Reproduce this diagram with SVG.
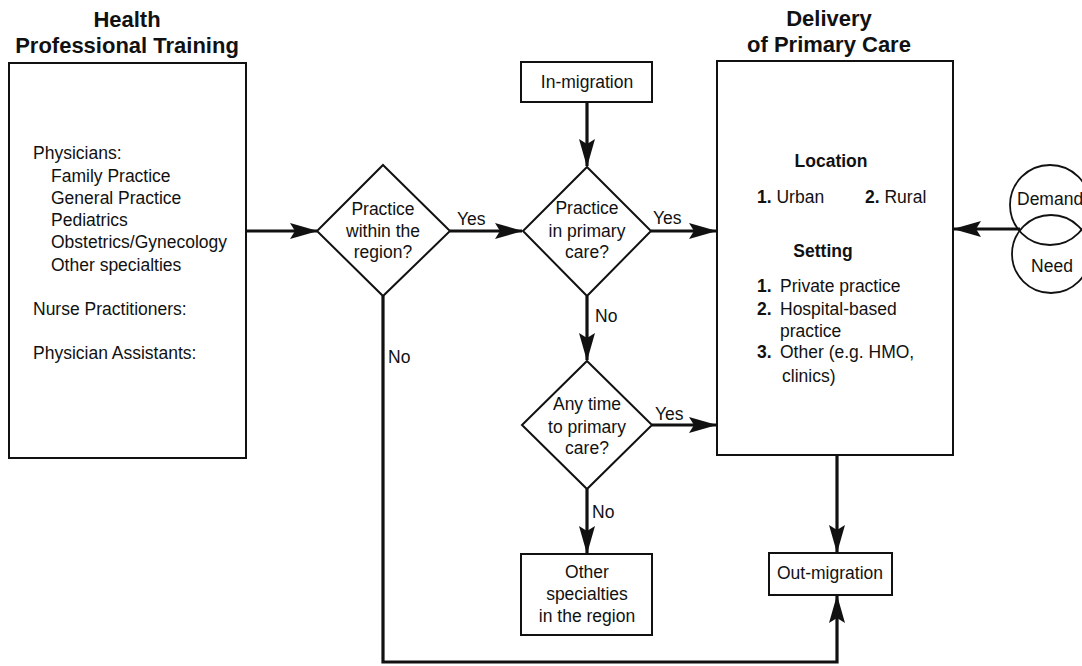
<svg xmlns="http://www.w3.org/2000/svg" width="1082" height="666" viewBox="0 0 1082 666">
<style>
text{font-family:"Liberation Sans",Arial,sans-serif;font-size:17.5px;fill:#111}
.t{font-size:22px;font-weight:bold}
.b{font-weight:bold}
.m{text-anchor:middle}
.box{fill:#fff;stroke:#111;stroke-width:2}
.c{fill:none;stroke:#111;stroke-width:3.2}
</style>
<defs>
<marker id="ah" markerUnits="userSpaceOnUse" viewBox="0 0 28 16" markerWidth="28" markerHeight="16" refX="27" refY="8" orient="auto">
<path d="M0,0 L28,8 L0,16 L5,8 Z" fill="#111"/>
</marker>
</defs>
<rect width="1082" height="666" fill="#fff"/>

<g id="connectors">
<line class="c" x1="246" y1="231" x2="317" y2="231" marker-end="url(#ah)"/>
<line class="c" x1="450" y1="231" x2="522" y2="231" marker-end="url(#ah)"/>
<line class="c" x1="651" y1="231" x2="716" y2="231" marker-end="url(#ah)"/>
<line class="c" x1="587" y1="102" x2="587" y2="166" marker-end="url(#ah)"/>
<line class="c" x1="587" y1="296" x2="587" y2="360" marker-end="url(#ah)"/>
<line class="c" x1="652" y1="425" x2="716" y2="425" marker-end="url(#ah)"/>
<line class="c" x1="587" y1="489" x2="587" y2="553" marker-end="url(#ah)"/>
<line class="c" x1="837" y1="455" x2="837" y2="552" marker-end="url(#ah)"/>
<polyline class="c" points="383,296 383,662 837,662 837,596" marker-end="url(#ah)"/>
<line class="c" x1="1020" y1="229" x2="954" y2="229" marker-end="url(#ah)"/>
<text x="457" y="225">Yes</text>
<text x="653" y="224">Yes</text>
<text x="655" y="420">Yes</text>
<text x="595" y="322">No</text>
<text x="592" y="518">No</text>
<text x="388" y="363">No</text>
</g>

<g id="training">
<text class="t m" x="127" y="27">Health</text>
<text class="t m" x="127" y="53">Professional Training</text>
<rect class="box" x="9" y="63" width="237" height="395"/>
<text x="33" y="159">Physicians:</text>
<text x="51" y="182">Family Practice</text>
<text x="51" y="204">General Practice</text>
<text x="51" y="226">Pediatrics</text>
<text x="51" y="248">Obstetrics/Gynecology</text>
<text x="51" y="271">Other specialties</text>
<text x="33" y="315">Nurse Practitioners:</text>
<text x="33" y="359">Physician Assistants:</text>
</g>

<g id="within-region">
<polygon class="box" points="383,165 450,231 383,296 317,231"/>
<text class="m" x="383" y="215">Practice</text>
<text class="m" x="383" y="237">within the</text>
<text class="m" x="383" y="258">region?</text>
</g>

<g id="in-migration">
<rect class="box" x="521" y="62" width="131" height="40"/>
<text class="m" x="587" y="88">In-migration</text>
</g>

<g id="primary-care">
<polygon class="box" points="587,167 651,231 587,296 523,231"/>
<text class="m" x="587" y="214">Practice</text>
<text class="m" x="587" y="237">in primary</text>
<text class="m" x="587" y="258">care?</text>
</g>

<g id="any-time">
<polygon class="box" points="587,361 652,425 587,489 522,425"/>
<text class="m" x="587" y="410">Any time</text>
<text class="m" x="587" y="433">to primary</text>
<text class="m" x="587" y="454">care?</text>
</g>

<g id="other-specialties">
<rect class="box" x="521" y="554" width="131" height="81"/>
<text class="m" x="587" y="578">Other</text>
<text class="m" x="587" y="600">specialties</text>
<text class="m" x="587" y="622">in the region</text>
</g>

<g id="delivery">
<text class="t m" x="829" y="26">Delivery</text>
<text class="t m" x="829" y="52">of Primary Care</text>
<rect class="box" x="717" y="61" width="236" height="394"/>
<text class="b m" x="831" y="167">Location</text>
<text x="757" y="203"><tspan class="b">1.</tspan>  Urban</text>
<text x="865" y="203"><tspan class="b">2.</tspan>  Rural</text>
<text class="b m" x="823" y="257">Setting</text>
<text x="757" y="292"><tspan class="b">1.</tspan></text><text x="780" y="292">Private practice</text>
<text x="757" y="315"><tspan class="b">2.</tspan></text><text x="780" y="315">Hospital-based</text>
<text x="780" y="337">practice</text>
<text x="757" y="358"><tspan class="b">3.</tspan></text><text x="780" y="358">Other (e.g. HMO,</text>
<text x="782" y="382">clinics)</text>
</g>

<g id="demand-need">
<circle cx="1050" cy="205" r="40" fill="none" stroke="#111" stroke-width="1.8"/>
<circle cx="1051" cy="254" r="39" fill="none" stroke="#111" stroke-width="1.8"/>
<text x="1017" y="205">Demand</text>
<text class="m" x="1052" y="272">Need</text>
</g>

<g id="out-migration">
<rect class="box" x="769" y="553" width="123" height="42"/>
<text class="m" x="830" y="579">Out-migration</text>
</g>
</svg>
